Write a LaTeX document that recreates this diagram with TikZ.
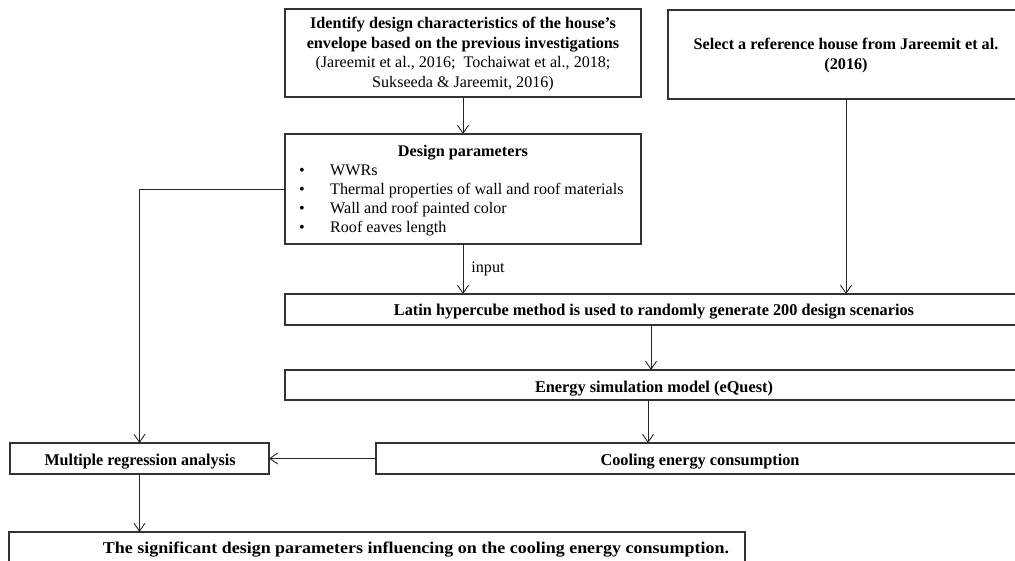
\documentclass[tikz,border=0pt]{standalone}
\usepackage{fontspec}
\setmainfont{Liberation Serif}
\usetikzlibrary{arrows.meta,calc}
\newcommand{\fitw}[2]{\resizebox{#1}{\height}{#2}}
\begin{document}
\begin{tikzpicture}[x=1pt,y=-1pt,
  box/.style={draw=black!80,line width=1.1pt,rectangle,inner sep=0pt,outer sep=0pt},
  arr/.style={draw=black!85,line width=0.9pt,-{Straight Barb[length=8pt,width=11pt,line width=0.9pt]}},
  bt/.style={font=\bfseries\fontsize{16.2}{19.7}\selectfont,inner sep=0pt,anchor=base},
  rt/.style={font=\fontsize{16.1}{19.7}\selectfont,inner sep=0pt,anchor=base},
  ct/.style={font=\bfseries\fontsize{16.5}{18}\selectfont,inner sep=0pt,anchor=base},
]
\useasboundingbox (0,0) rectangle (1015,561);
\clip (0,0) rectangle (1015,561);

% boxes
\node[box,minimum width=356pt,minimum height=88pt] (id) at (463,53) {};
\node[box,minimum width=356pt,minimum height=89pt] (sel) at (846,54.5) {};
\node[box,minimum width=356pt,minimum height=110pt] (dp) at (463,189) {};
\node[box,minimum width=739pt,minimum height=31pt] (lhc) at (654.5,309.5) {};
\node[box,minimum width=739pt,minimum height=30pt] (esm) at (654.5,385) {};
\node[box,minimum width=648pt,minimum height=31pt] (cool) at (700,458.5) {};
\node[box,minimum width=259pt,minimum height=31pt] (mra) at (139.5,458.5) {};
\node[box,minimum width=736pt,minimum height=31pt] (sig) at (377,547.5) {};

% texts
\node[bt] (id1) at (463,29) {Identify design characteristics of the house’s};
\node[bt] (id2) at (463,49) {envelope based on the previous investigations};
\node[rt] (id3) at (463,68) {(Jareemit et al., 2016;\ \ Tochaiwat et al., 2018;};
\node[rt] (id4) at (463,88) {Sukseeda \& Jareemit, 2016)};

\node[bt] (sel1) at (846,50) {Select a reference house from Jareemit et al.};
\node[bt] (sel2) at (846,70) {(2016)};

\node[bt] (dph) at (463,157) {Design parameters};
\node[rt,anchor=base west] (db1) at (299,176) {\textbullet};
\node[rt,anchor=base west] (dt1) at (330,176) {WWRs};
\node[rt,anchor=base west] (db2) at (299,195) {\textbullet};
\node[rt,anchor=base west] (dt2) at (330,195) {Thermal properties of wall and roof materials};
\node[rt,anchor=base west] (db3) at (299,214) {\textbullet};
\node[rt,anchor=base west] (dt3) at (330,214) {Wall\ and roof painted color};
\node[rt,anchor=base west] (db4) at (299,233) {\textbullet};
\node[rt,anchor=base west] (dt4) at (330,233) {Roof eaves length};

\node[ct] (lhct) at (654,316) {\fitw{520pt}{Latin hypercube method is used to randomly generate 200 design scenarios}};
\node[ct] (esmt) at (654,392) {\fitw{238pt}{Energy simulation model (eQuest)}};
\node[ct] (coolt) at (700,465) {\fitw{199pt}{Cooling energy consumption}};
\node[ct] (mrat) at (140,465) {\fitw{191pt}{Multiple regression analysis}};
\node[ct] (sigt) at (416,553) {\fitw{626pt}{The significant design parameters influencing on the cooling energy consumption.}};

% connectors
\coordinate (c1) at (651,0);
\coordinate (c2) at (648,0);
\draw[arr] (id.south) -- (dp.north);
\draw[arr] (dp.south) -- (dp.south |- lhc.north) node[midway,right=8pt,rt,anchor=west] (inp) {input};
\draw[arr] (sel.south) -- (sel.south |- lhc.north);
\draw[arr] (lhc.south -| c1) -- (esm.north -| c1);
\draw[arr] (esm.south -| c2) -- (cool.north -| c2);
\draw[arr] (cool.west) -- (mra.east);
\draw[arr] (dp.west) -| (mra.north);
\draw[arr] (mra.south) -- (mra.south |- sig.north);
\end{tikzpicture}
\end{document}
